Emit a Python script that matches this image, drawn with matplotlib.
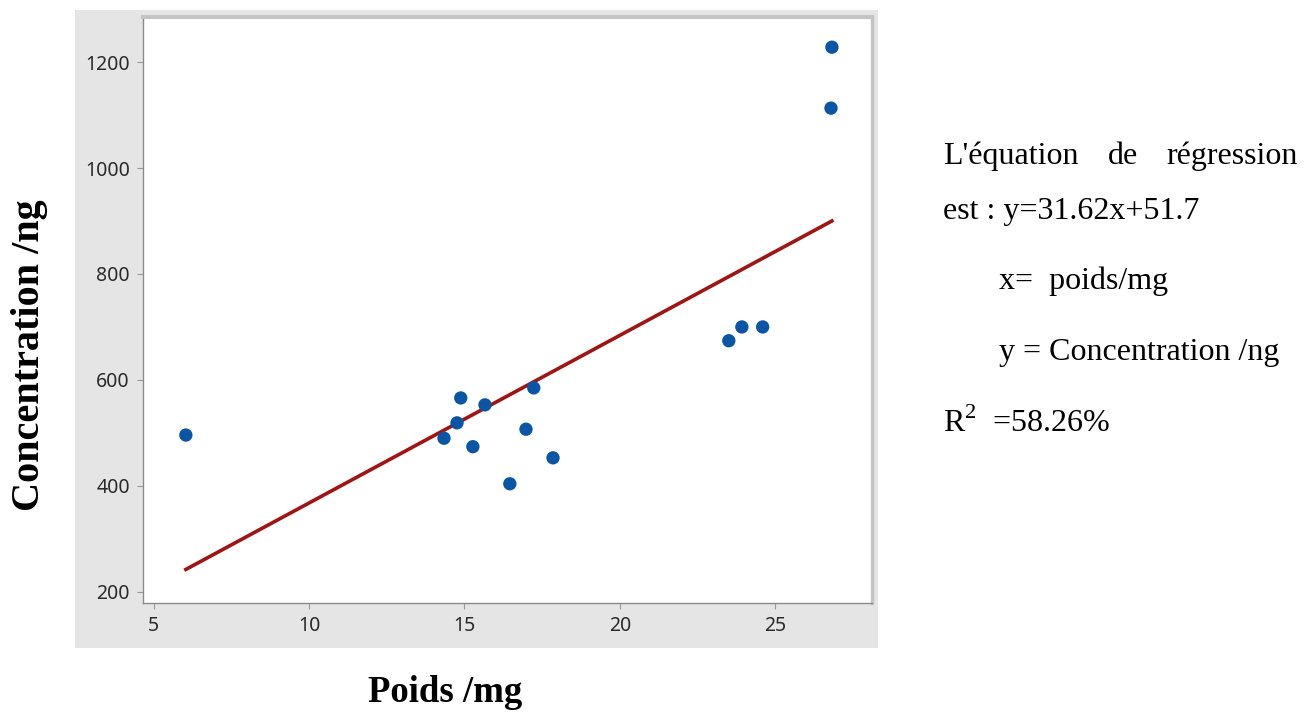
import numpy as np
import matplotlib
matplotlib.use("Agg")
import matplotlib.pyplot as plt
from matplotlib.patches import Rectangle

plt.rcParams["mathtext.fontset"] = "custom"
plt.rcParams["mathtext.rm"] = "Liberation Serif"

# data
poids = [6.03, 14.34, 14.76, 14.88, 15.27, 15.66, 16.46, 16.98, 17.23, 17.85,
         23.51, 23.93, 24.60, 26.83, 26.80]
concentration = [496, 490, 519, 566, 474, 553, 404, 507, 585, 453,
                 674, 700, 700, 1228, 1113]

slope = 31.62
intercept = 51.7
r2 = 58.26

x_ticks = [5, 10, 15, 20, 25]
y_ticks = [200, 400, 600, 800, 1000, 1200]

W, H = 1312, 716
fig = plt.figure(figsize=(W / 100, H / 100), dpi=100)
fig.patch.set_facecolor("white")

# grey panel behind the plot (Minitab style)
fig.patches.append(Rectangle((75 / W, 1 - 648 / H), (878 - 75) / W, (648 - 10) / H,
                             transform=fig.transFigure, facecolor="#E5E5E5",
                             edgecolor="none", zorder=-5))

ax = fig.add_axes([143 / W, 1 - 603 / H, (872 - 143) / W, (603 - 17) / H])
ax.set_zorder(2)
ax.set_facecolor("white")

x = np.array(poids)
y = np.array(concentration)

# regression line over the data range
xl = np.linspace(x.min(), x.max(), 50)
ax.plot(xl, slope * xl + intercept, color="#A01414", lw=2.6, zorder=2)
ax.scatter(x, y, s=92, color="#0A55A6", zorder=3, edgecolors="none")

ax.set_xlim(4.65, 28.12)
ax.set_ylim(179, 1285)
ax.set_xticks(x_ticks)
ax.set_yticks(y_ticks)

for lab in ax.get_xticklabels() + ax.get_yticklabels():
    lab.set_fontfamily("Noto Sans")
    lab.set_fontsize(14)
    lab.set_weight("medium")
    lab.set_color("#2A2A2A")
ax.tick_params(direction="out", length=4.5, width=0.8, color="#999999", pad=5)

ax.spines["left"].set_color("#8A8A8A")
ax.spines["bottom"].set_color("#8A8A8A")
ax.spines["left"].set_linewidth(1.0)
ax.spines["bottom"].set_linewidth(1.0)
ax.spines["top"].set_color("#C4C4C4")
ax.spines["top"].set_linewidth(3)
ax.spines["right"].set_color("#C4C4C4")
ax.spines["right"].set_linewidth(2.5)

# axis titles
fig.text(445 / W, 1 - 693 / H, "Poids /mg", ha="center", va="center",
         family="Liberation Serif", weight="bold", fontsize=26.5)
fig.text(30 / W, 1 - 355 / H, "Concentration /ng", ha="center", va="center",
         rotation=90, family="Liberation Serif", weight="bold", fontsize=29)

# regression text on the right
tk = dict(family="Liberation Serif", fontsize=23, color="black", va="baseline")
fig.text(943 / W, 1 - 164 / H, "L'équation", ha="left", **tk)
fig.text(1108 / W, 1 - 164 / H, "de", ha="left", **tk)
fig.text(1298 / W, 1 - 164 / H, "régression", ha="right", **tk)
fig.text(943 / W, 1 - 219 / H, f"est : y={slope:.2f}x+{intercept:.1f}", ha="left", **tk)
fig.text(999 / W, 1 - 289 / H, "x=  poids/mg", ha="left", **tk)
fig.text(999 / W, 1 - 360 / H, "y = Concentration /ng", ha="left", **tk)
fig.text(943 / W, 1 - 432 / H, r"R$^{\mathrm{2}}$  =" + f"{r2:.2f}%", ha="left", **tk)

fig.savefig("out.png", dpi=100)
